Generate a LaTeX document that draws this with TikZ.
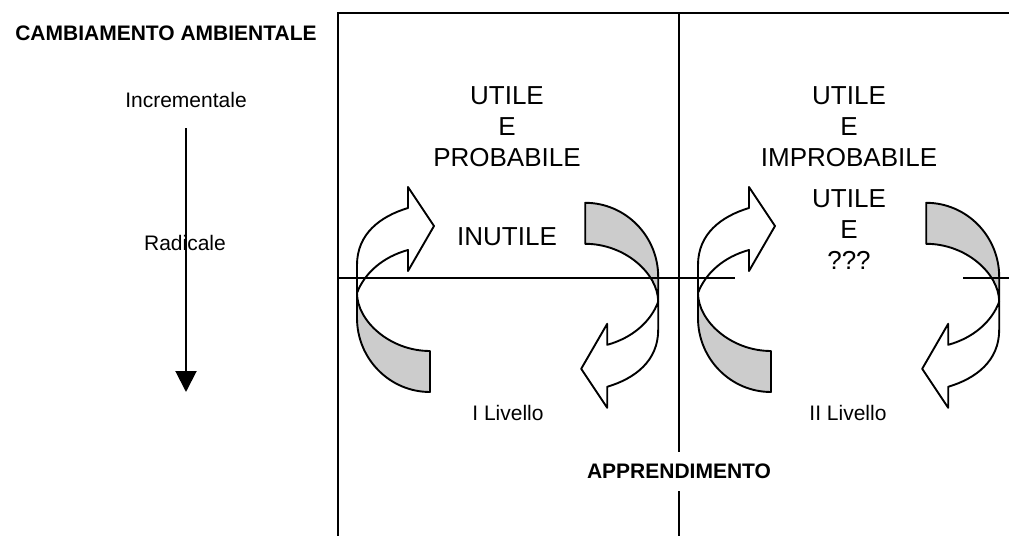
\documentclass[tikz,border=0pt]{standalone}
\usepackage{fontspec}
\setmainfont{Liberation Sans}
\usetikzlibrary{arrows.meta}
\definecolor{bandgray}{RGB}{204,204,204}

\tikzset{
  frame/.style={line width=1pt},
  divider/.style={line width=0.85pt},
  small/.style={font=\fontsize{10.5}{12.6}\selectfont},
  smallbold/.style={font=\fontsize{10.5}{12.6}\selectfont\bfseries},
  big/.style={font=\fontsize{13}{15.5}\selectfont, align=center},
  band/.style={draw=black, line width=0.95pt, line join=round},
}

% Twisted ribbon arrow: white front band with head, grey back band
\newcommand{\twistarrow}{%
  \filldraw[band, fill=white] (-150.6,-32.4)
    .. controls (-150.6,-63.4) and (-127.6,-81) .. (-99.6,-89.4)
    -- (-99.6,-110.4) -- (-73.6,-71.4) -- (-99.6,-26.4) -- (-99.6,-47.4)
    .. controls (-124.6,-40.6) and (-143.1,-24.4) .. (-150.6,-4.4) -- cycle;
  \filldraw[band, fill=bandgray] (-150.6,-4.4) -- (-150.6,20.6)
    .. controls (-150.6,61.4) and (-117.9,94.6) .. (-77.6,94.6)
    -- (-77.6,53.6)
    .. controls (-117.6,53.6) and (-150.6,23.6) .. (-150.6,-4.4) -- cycle;
}

\begin{document}
\begin{tikzpicture}[x=0.5pt, y=-0.5pt]
\useasboundingbox (0,0) rectangle (1009,536);

% cycles of the two learning levels
\begin{scope}[shift={(507.6,297.4)}] \twistarrow \end{scope}
\begin{scope}[shift={(507.6,297.4)}, rotate=180] \twistarrow \end{scope}
\begin{scope}[shift={(848.6,297.4)}] \twistarrow \end{scope}
\begin{scope}[shift={(848.6,297.4)}, rotate=180] \twistarrow \end{scope}

% frame and dividers
\draw[frame] (338,536) -- (338,13) -- (1009,13);
\draw[frame] (679,13) -- (679,536);
\draw[divider] (338,278) -- (679,278);
\draw[divider] (679,278) -- (735,278);
\draw[divider] (963,278) -- (1009,278);

% environmental change scale
\node[smallbold] (env) at (166,33) {CAMBIAMENTO AMBIENTALE};
\node[small] (incr) at (186,100) {Incrementale};
\node[small] (rad) at (185,243) {Radicale};
\coordinate (scaletop) at (186,128);
\coordinate (scalebot) at (186,392);
\draw[line width=1pt, -{Triangle[length=10.5pt,width=10.5pt]}] (scaletop) -- (scalebot);

% quadrant labels
\node[big] (q1) at (507,127) {UTILE\\E\\PROBABILE};
\node[big] (q2) at (849,127) {UTILE\\E\\IMPROBABILE};
\node[big] (q3) at (507,237) {INUTILE};
\node[big] (q4) at (849,230) {UTILE\\E\\???};

% learning levels
\node[small] (lev1) at (508,413) {I Livello};
\node[small] (lev2) at (848,413) {II Livello};
\node[smallbold, fill=white, minimum height=19.5pt] (learn) at (679,471) {APPRENDIMENTO};
\end{tikzpicture}
\end{document}
